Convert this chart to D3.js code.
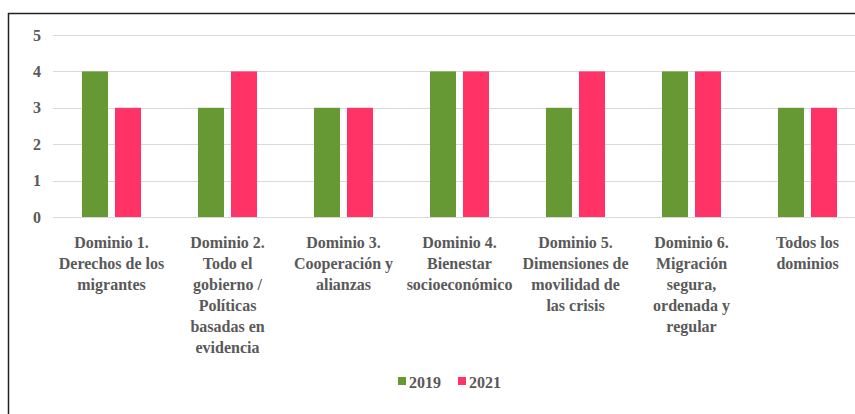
<!DOCTYPE html>
<html>
<head>
<meta charset="utf-8">
<script src="https://cdn.jsdelivr.net/npm/d3@7"></script>
<style>
  html, body { margin: 0; padding: 0; background: #fff; }
  svg { display: block; }
</style>
</head>
<body>
<svg id="chart" width="855" height="414"></svg>
<script>
const categories = [
  ["Dominio 1.", "Derechos de los", "migrantes"],
  ["Dominio 2.", "Todo el", "gobierno /", "Políticas", "basadas en", "evidencia"],
  ["Dominio 3.", "Cooperación y", "alianzas"],
  ["Dominio 4.", "Bienestar", "socioeconómico"],
  ["Dominio 5.", "Dimensiones de", "movilidad de", "las crisis"],
  ["Dominio 6.", "Migración", "segura,", "ordenada y", "regular"],
  ["Todos los", "dominios"]
];
const seriesNames = ["2019", "2021"];
const values2019 = [4, 3, 3, 4, 3, 4, 3];
const values2021 = [3, 4, 3, 4, 4, 4, 3];
const yTicks = [0, 1, 2, 3, 4, 5];
const colors = ["#669933", "#ff3366"];

const FONT = "'Liberation Serif', 'Noto Serif', 'DejaVu Serif', 'Nimbus Roman', 'FreeSerif', 'Times New Roman', serif";
const svg = d3.select("#chart");
const keys = categories.map((c, i) => "c" + i);
const seriesValues = [values2019, values2021];

const x0 = d3.scaleBand().domain(keys).range([53.5, 865.5]).padding(0);
const x1 = d3.scaleBand().domain(seriesNames).range([28.5, 87.5]).paddingInner(7 / 33).paddingOuter(0);
const y = d3.scaleLinear().domain([0, 5]).range([217, 35]);

// frame
svg.append("line").attr("x1", 8.5).attr("x2", 8.5).attr("y1", 13).attr("y2", 414)
  .attr("stroke", "#222").attr("stroke-width", 1.5);
svg.append("line").attr("x1", 8).attr("x2", 855).attr("y1", 13.5).attr("y2", 13.5)
  .attr("stroke", "#222").attr("stroke-width", 1.5);

// gridlines
svg.append("g").selectAll("line").data(yTicks).join("line")
  .attr("x1", 53).attr("x2", 855)
  .attr("y1", d => Math.round(y(d)) + 0.5).attr("y2", d => Math.round(y(d)) + 0.5)
  .attr("stroke", "#d9d9d9").attr("stroke-width", 1);

// y axis labels
const yAxis = d3.axisLeft(y).tickValues(yTicks).tickSize(0).tickPadding(0).tickFormat(d3.format("d"));
const yg = svg.append("g").attr("transform", "translate(41,0)").call(yAxis);
yg.attr("font-family", null).attr("font-size", null);
yg.select(".domain").remove();
yg.selectAll("text").style("font-family", FONT).style("font-size", "16px")
  .style("font-weight", "bold").style("fill", "#595959");

// bars
const groups = svg.append("g").selectAll("g").data(keys).join("g")
  .attr("transform", d => `translate(${x0(d)},0)`);
groups.selectAll("rect").data((d, i) => seriesNames.map((s, j) => ({ s, v: seriesValues[j][i], j })))
  .join("rect")
  .attr("x", d => x1(d.s))
  .attr("width", x1.bandwidth())
  .attr("y", d => y(d.v))
  .attr("height", d => y(0) - y(d.v))
  .attr("fill", d => colors[d.j]);

// x labels
const lab = svg.append("g").selectAll("text").data(categories).join("text")
  .attr("text-anchor", "middle")
  .style("font-family", FONT).style("font-size", "16px")
  .style("font-weight", "bold").style("fill", "#595959")
  .attr("transform", (d, i) => `translate(${x0(keys[i]) + x0.bandwidth() / 2},248)`);
lab.selectAll("tspan").data(d => d).join("tspan")
  .attr("x", 0).attr("y", (d, i) => i * 21).text(d => d);

// legend
const legendX = [398, 458];
const lg = svg.append("g").selectAll("g").data(seriesNames).join("g")
  .attr("transform", (d, i) => `translate(${legendX[i]},382)`);
lg.append("rect").attr("x", 0).attr("y", -5).attr("width", 8).attr("height", 8)
  .attr("fill", (d, i) => colors[i]);
lg.append("text").attr("x", 11).attr("y", 6)
  .style("font-family", FONT).style("font-size", "16px")
  .style("font-weight", "bold").style("fill", "#595959")
  .text(d => d);
</script>
</body>
</html>
